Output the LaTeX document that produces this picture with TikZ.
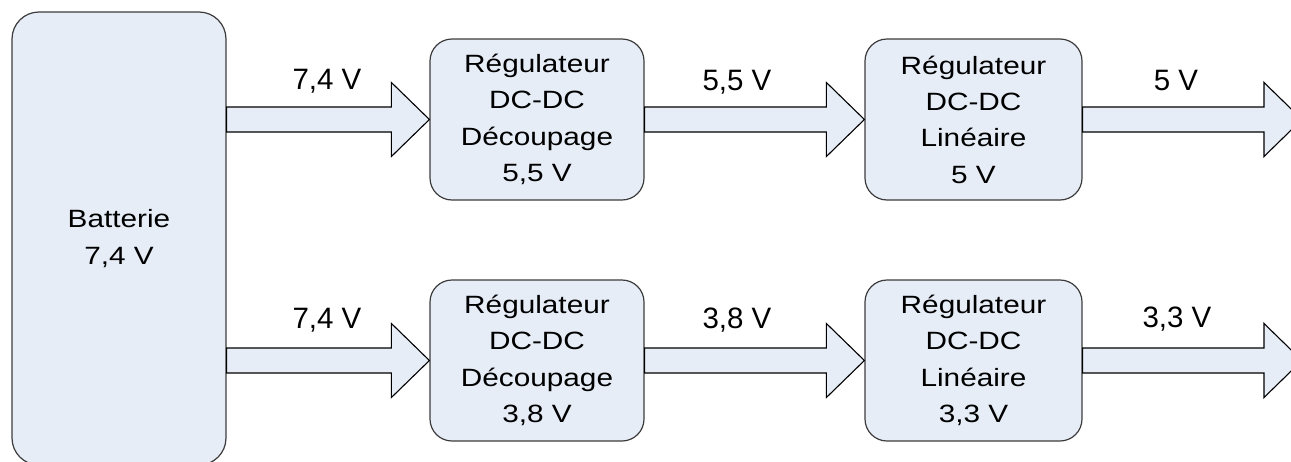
\documentclass[tikz,border=0pt]{standalone}
\usepackage{fontspec}
\setmainfont{Liberation Sans}
\newfontfamily\widesans[FakeStretch=1.19]{Liberation Sans}
\usetikzlibrary{calc}
\definecolor{boxfill}{RGB}{230,237,247}
\definecolor{boxline}{RGB}{60,60,60}
\tikzset{
  blk/.style={draw=boxline, fill=boxfill, line width=1.2pt, rounded corners=22pt,
    align=center, inner sep=0pt, font=\widesans\fontsize{25}{36.3}\selectfont},
  lbl/.style={anchor=base, inner sep=0pt, font=\fontsize{29.5}{34}\selectfont},
  fatarrow/.style={draw=black, fill=boxfill, line width=1.1pt, line join=miter}
}
\newcommand{\fatarr}[2]{%
  \draw[fatarrow] let \p1=(#1), \p2=(#2) in
    (\x1,\y1+12.5pt) -- (\x2-38pt,\y1+12.5pt) -- (\x2-38pt,\y1+37pt) -- (\x2,\y1)
    -- (\x2-38pt,\y1-37pt) -- (\x2-38pt,\y1-12.5pt) -- (\x1,\y1-12.5pt) -- cycle;}
\begin{document}
\begin{tikzpicture}[x=1pt,y=-1pt]
\useasboundingbox (0,0) rectangle (1291,461);
\clip (0,0) rectangle (1291,461);
\fill[white] (0,0) rectangle (1291,461);
% blocks
\node[blk, rounded corners=27pt, minimum width=214pt, minimum height=453pt] (bat) at (119,238.5) {Batterie\\7,4 V};
\node[blk, minimum width=214pt, minimum height=161pt] (r1) at (537,119.5) {Régulateur\\DC-DC\\Découpage\\5,5 V};
\node[blk, minimum width=217pt, minimum height=161pt] (r2) at (973.5,119.5) {Régulateur\\DC-DC\\Linéaire\\5 V};
\node[blk, minimum width=214pt, minimum height=161pt] (r3) at (537,360.5) {Régulateur\\DC-DC\\Découpage\\3,8 V};
\node[blk, minimum width=217pt, minimum height=161pt] (r4) at (973.5,360.5) {Régulateur\\DC-DC\\Linéaire\\3,3 V};
\coordinate (o1) at (1302,119.5);
\coordinate (o2) at (1302,360.5);
\coordinate (b1) at (bat.east |- r1.west);
\coordinate (b2) at (bat.east |- r3.west);
% arrows
\fatarr{b1}{r1.west}
\fatarr{r1.east}{r2.west}
\fatarr{r2.east}{o1}
\fatarr{b2}{r3.west}
\fatarr{r3.east}{r4.west}
\fatarr{r4.east}{o2}
% labels
\node[lbl] (l1) at (327,89) {7,4 V};
\node[lbl] (l2) at (737,90) {5,5 V};
\node[lbl] (l3) at (1176,90) {5 V};
\node[lbl] (l4) at (327,328) {7,4 V};
\node[lbl] (l5) at (737,328) {3,8 V};
\node[lbl] (l6) at (1177,327) {3,3 V};
\end{tikzpicture}
\end{document}
